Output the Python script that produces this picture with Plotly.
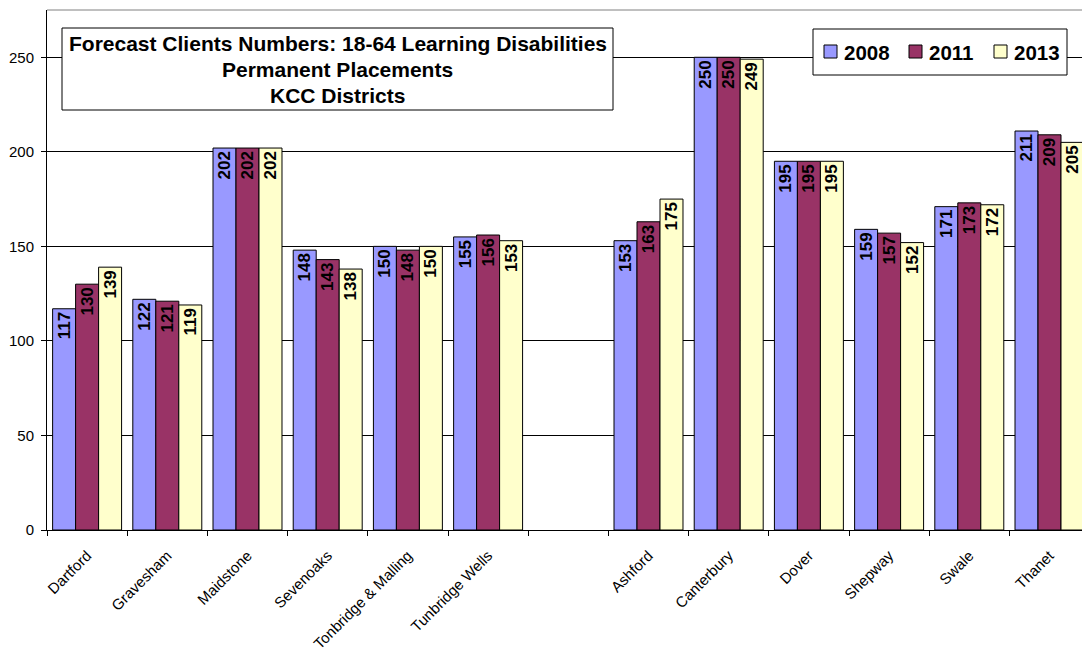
import plotly.graph_objects as go

districts = ["Dartford", "Gravesham", "Maidstone", "Sevenoaks", "Tonbridge & Malling",
             "Tunbridge Wells", " ", "Ashford", "Canterbury", "Dover", "Shepway", "Swale", "Thanet"]
v2008 = [117, 122, 202, 148, 150, 155, None, 153, 250, 195, 159, 171, 211]
v2011 = [130, 121, 202, 143, 148, 156, None, 163, 250, 195, 157, 173, 209]
v2013 = [139, 119, 202, 138, 150, 153, None, 175, 249, 195, 152, 172, 205]
series = [("2008", v2008, "#9999FF"), ("2011", v2011, "#993366"), ("2013", v2013, "#FFFFCC")]
title_lines = ["Forecast Clients Numbers: 18-64 Learning Disabilities",
               "Permanent Placements", "KCC Districts"]

W, H = 1082, 653
ml, mr, mt, mb = 47, 0, 10, 123
pw, ph = W - ml - mr, H - mt - mb
cat_px = 80.2

def px_x(x):
    return (x - ml) / pw

def px_y(y):
    return (H - mb - y) / ph

FONT = "Liberation Sans, Arial, sans-serif"

fig = go.Figure()
for name, vals, col in series:
    fig.add_trace(go.Bar(
        x=districts, y=vals, name=name,
        marker=dict(color=col, line=dict(color="black", width=1)),
        text=[("" if v is None else str(v)) for v in vals],
        textposition="inside", insidetextanchor="end", textangle=-90,
        textfont=dict(family=FONT, size=17, color="black", weight="bold"),
        cliponaxis=False, showlegend=False,
    ))

fig.update_layout(
    width=W, height=H,
    margin=dict(l=ml, r=mr, t=mt, b=mb),
    paper_bgcolor="white", plot_bgcolor="white",
    barmode="group", bargap=0.14, bargroupgap=0,
    uniformtext=dict(minsize=17, mode="show"),
    font=dict(family=FONT, color="black"),
    showlegend=False,
)
fig.update_xaxes(
    range=[-0.5, -0.5 + pw / cat_px], tickangle=-45, tickfont=dict(size=15),
    showline=True, linecolor="black", linewidth=1,
    ticks="outside", tickson="boundaries", ticklen=5, tickcolor="black",
    ticklabelstandoff=10,
    showgrid=False,
)
fig.update_yaxes(
    range=[0, 275], tickvals=[0, 50, 100, 150, 200, 250], tickfont=dict(size=15),
    showline=True, linecolor="black", linewidth=1,
    ticks="outside", ticklen=5, tickcolor="black", ticklabelstandoff=4,
    showgrid=True, gridcolor="black", gridwidth=1, zeroline=False,
)
# plot area top border
fig.add_shape(type="line", xref="paper", yref="paper", x0=0, x1=1, y0=1, y1=1,
              line=dict(color="#808080", width=1))
# title box
fig.add_shape(type="rect", xref="paper", yref="paper",
              x0=px_x(62), x1=px_x(613), y0=px_y(110), y1=px_y(28),
              line=dict(color="black", width=1), fillcolor="white", layer="above")
for i, line in enumerate(title_lines):
    fig.add_annotation(xref="paper", yref="paper", x=px_x(337.5), y=px_y(43 + 26.5 * i),
                       text=line, showarrow=False, xanchor="center", yanchor="middle",
                       font=dict(size=21, weight="bold", family=FONT, color="black"))

# legend box (manual)
fig.add_shape(type="rect", xref="paper", yref="paper",
              x0=px_x(813), x1=px_x(1067), y0=px_y(75), y1=px_y(29),
              line=dict(color="black", width=1), fillcolor="white", layer="above")
for i, (name, vals, col) in enumerate(series):
    sx = 824 + 85 * i
    fig.add_shape(type="rect", xref="paper", yref="paper",
                  x0=px_x(sx), x1=px_x(sx + 13), y0=px_y(58), y1=px_y(45),
                  line=dict(color="black", width=1), fillcolor=col, layer="above")
    fig.add_annotation(xref="paper", yref="paper", x=px_x(sx + 18), y=px_y(52),
                       text=name, showarrow=False, xanchor="left", yanchor="middle",
                       font=dict(size=20.5, weight="bold", family=FONT, color="black"))

fig.write_html("out.html")
